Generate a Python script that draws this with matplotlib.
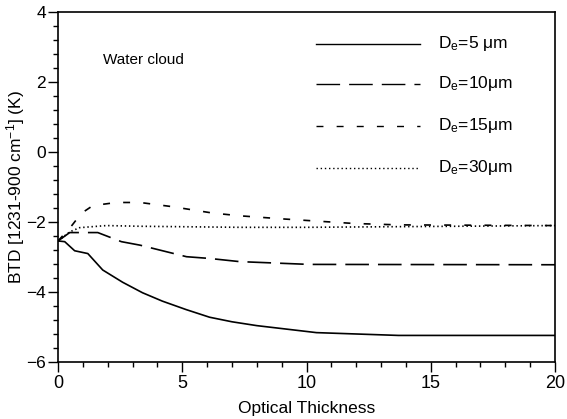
import matplotlib
matplotlib.use("Agg")
import matplotlib.pyplot as plt
from matplotlib.ticker import MultipleLocator

plt.rcParams['font.family'] = ['Liberation Sans', 'DejaVu Sans']
plt.rcParams['mathtext.fontset'] = 'custom'
plt.rcParams['mathtext.rm'] = 'Liberation Sans'
plt.rcParams['mathtext.it'] = 'Liberation Sans:italic'
plt.rcParams['lines.scale_dashes'] = False

# BTD vs optical thickness, one curve per effective diameter
tau_5 = [0, 0.27, 0.67, 1.2, 1.8, 2.6, 3.4, 4.2, 5.15, 6.1, 7.0, 8.0, 10.4, 13.7, 20]
btd_5 = [-2.54, -2.56, -2.82, -2.9, -3.37, -3.72, -4.02, -4.26, -4.5, -4.72, -4.85, -4.96, -5.16, -5.24, -5.24]

tau_10 = [0, 0.47, 1.6, 2.55, 3.3, 5.17, 6.1, 7.3, 10.1, 20]
btd_10 = [-2.54, -2.3, -2.3, -2.56, -2.66, -2.99, -3.04, -3.13, -3.21, -3.22]

tau_15 = [0, 0.5, 0.94, 1.4, 2.35, 3.3, 4.6, 6.2, 7.3, 9.05, 11.9, 13.7, 20]
btd_15 = [-2.54, -2.15, -1.75, -1.53, -1.44, -1.44, -1.56, -1.74, -1.82, -1.91, -2.04, -2.08, -2.1]

tau_30 = [0, 0.47, 0.87, 1.95, 3.3, 7.3, 10.0, 20]
btd_30 = [-2.54, -2.28, -2.16, -2.1, -2.12, -2.15, -2.15, -2.1]

labels = ['5 μm', '10μm', '15μm', '30μm']
legend_y = [3.1, 1.95, 0.75, -0.45]

styles = [
    dict(linestyle='-'),
    dict(linestyle=(0, (17, 6.5))),
    dict(linestyle=(0, (5, 9.5))),
    dict(linestyle=(0, (1, 2))),
]

fig = plt.figure(figsize=(5.67, 4.19), dpi=100)
ax = fig.add_axes([0.1023, 0.136, 0.8766, 0.835])

series = [(tau_5, btd_5), (tau_10, btd_10), (tau_15, btd_15), (tau_30, btd_30)]
for (t, b), st in zip(series, styles):
    ax.plot(t, b, color='black', linewidth=1.2, **st)

# hand-drawn legend inside the axes
for lab, ly, st in zip(labels, legend_y, styles):
    ax.plot([10.4, 14.55], [ly, ly], color='black', linewidth=1.0, **st)
    ax.text(15.3, ly, 'D$_\\mathrm{e}$=' + lab, fontsize=12.5, va='center', ha='left')

ax.text(1.8, 2.63, 'Water cloud', fontsize=11, va='center', ha='left')

ax.set_xlim(0, 20)
ax.set_ylim(-6, 4)
ax.xaxis.set_major_locator(MultipleLocator(5))
ax.xaxis.set_minor_locator(MultipleLocator(1))
ax.yaxis.set_major_locator(MultipleLocator(2))
ax.yaxis.set_minor_locator(MultipleLocator(0.4))
ax.tick_params(which='both', direction='out', width=1.0, labelsize=13, pad=2)
ax.tick_params(axis='y', labelsize=12.5, pad=1.5)
ax.tick_params(which='major', length=7)
ax.tick_params(which='minor', length=3.3)
for sp in ax.spines.values():
    sp.set_linewidth(1.2)

ax.set_xlabel('Optical Thickness', fontsize=12.5, labelpad=7)
ax.set_ylabel('BTD [1231-900 cm$^{-1}$] (K)', fontsize=12.5, labelpad=-0.5)

fig.savefig('out.png', dpi=100)
